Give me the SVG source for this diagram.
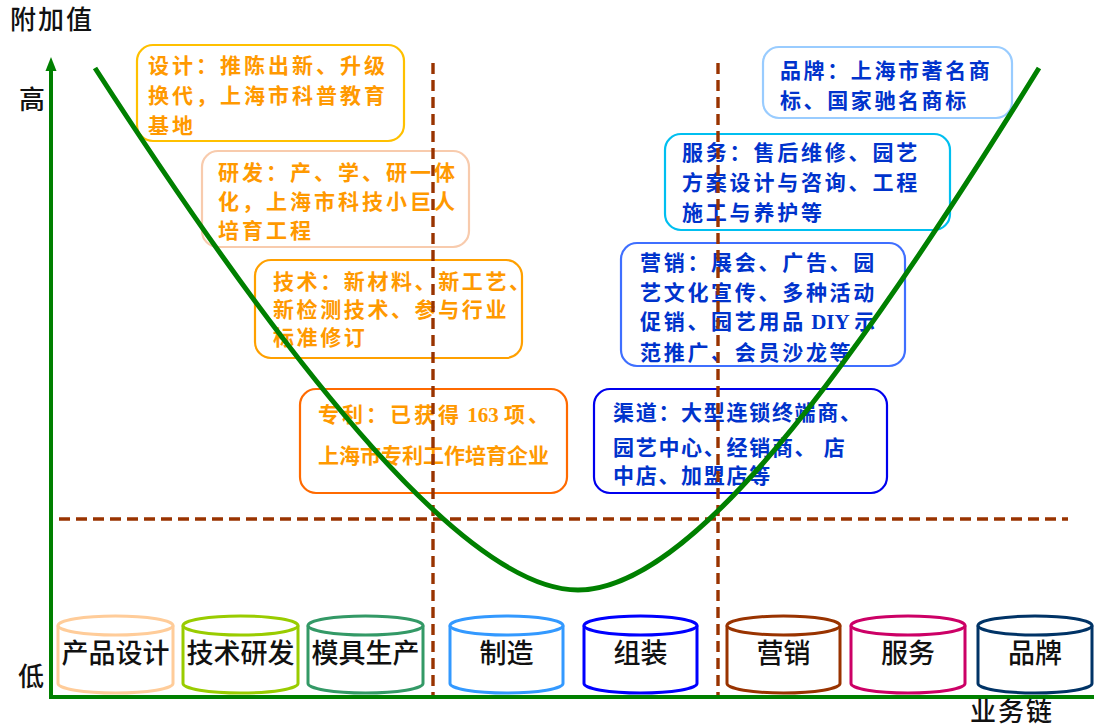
<svg xmlns="http://www.w3.org/2000/svg" width="1094" height="726" viewBox="0 0 1094 726">
<style>
.box{fill:#fff;stroke-width:2.2}
.ot{font-family:"Noto Sans CJK SC","Noto Sans",sans-serif;font-size:21px;font-weight:bold;fill:#FF9900}
.bt{font-family:"Noto Sans CJK SC","Noto Sans",sans-serif;font-size:21px;font-weight:bold;fill:#0033CC}
.cyl{fill:#fff;stroke-width:3}
.cl{font-family:"Noto Sans CJK SC","Noto Sans",sans-serif;font-size:27px;font-weight:500;fill:#111;text-anchor:middle}
.ax{font-family:"Noto Sans CJK SC","Noto Sans",sans-serif;font-size:26px;font-weight:500;fill:#111}
.dash{stroke:#993300;stroke-width:3.4;stroke-dasharray:11 6;fill:none}
.lat{font-family:"Liberation Serif",serif;font-weight:bold;letter-spacing:0}
</style>
<rect width="1094" height="726" fill="#fff"/>

<g id="box-design">
<rect class="box" x="137" y="45" width="267" height="96" rx="16" stroke="#FFC000"/>
<text class="ot" letter-spacing="3"><tspan x="148" y="73">设计：推陈出新、升级</tspan><tspan x="148" y="103">换代，上海市科普教育</tspan><tspan x="148" y="133">基地</tspan></text>
</g>
<g id="box-rd">
<rect class="box" x="202" y="151" width="267" height="96" rx="16" stroke="#F8CBAD"/>
<text class="ot" letter-spacing="3"><tspan x="218" y="180">研发：产、学、研一体</tspan><tspan x="218" y="209">化，上海市科技小巨人</tspan><tspan x="218" y="238">培育工程</tspan></text>
</g>
<g id="box-tech">
<rect class="box" x="255" y="260" width="267" height="98" rx="16" stroke="#FFA000"/>
<text class="ot" font-size="20" letter-spacing="2.6"><tspan x="273" y="289">技术：新材料、新工艺、</tspan><tspan x="273" y="317">新检测技术、参与行业</tspan><tspan x="273" y="345">标准修订</tspan></text>
</g>
<g id="box-patent">
<rect class="box" x="300" y="389" width="267" height="104" rx="16" stroke="#FF6A00"/>
<text class="ot" x="318" y="422" letter-spacing="3">专利：已获得<tspan class="lat"> 163 </tspan>项、</text>
<text class="ot" x="318" y="463" font-size="19">上海市专利工作培育企业</text>
</g>
<g id="box-brand">
<rect class="box" x="763" y="47" width="249" height="71" rx="16" stroke="#99CCFF"/>
<text class="bt" letter-spacing="2.6"><tspan x="780" y="78">品牌：上海市著名商</tspan><tspan x="780" y="108">标、国家驰名商标</tspan></text>
</g>
<g id="box-service">
<rect class="box" x="665" y="134" width="285" height="96" rx="16" stroke="#00BFF0"/>
<text class="bt" letter-spacing="2.8"><tspan x="682" y="160">服务：售后维修、园艺</tspan><tspan x="682" y="190">方案设计与咨询、工程</tspan><tspan x="682" y="220">施工与养护等</tspan></text>
</g>
<g id="box-marketing">
<rect class="box" x="621" y="243" width="284" height="123" rx="16" stroke="#3F6FFF"/>
<text class="bt" letter-spacing="2.7"><tspan x="640" y="270">营销：展会、广告、园</tspan><tspan x="640" y="300">艺文化宣传、多种活动</tspan><tspan x="640" y="329">促销、园艺用品<tspan class="lat"> DIY </tspan>示</tspan><tspan x="640" y="360">范推广、会员沙龙等</tspan></text>
</g>
<g id="box-channel">
<rect class="box" x="594" y="389" width="293" height="104" rx="16" stroke="#0000EE"/>
<text class="bt" letter-spacing="1.7"><tspan x="613" y="420">渠道：大型连锁终端商、</tspan><tspan x="613" y="455">园艺中心、经销商、 店</tspan><tspan x="613" y="483">中店、加盟店等</tspan></text>
</g>

<g id="connectors">
<line class="dash" x1="433" y1="63" x2="433" y2="697"/>
<line class="dash" x1="718" y1="63" x2="718" y2="697"/>
<line class="dash" x1="59" y1="519" x2="1068" y2="519"/>
<path d="M95,68 C300,385 470,590 578,590 C688,590 843,385 1039,68" fill="none" stroke="#008000" stroke-width="5"/>
<line x1="51" y1="697" x2="51" y2="68" stroke="#008000" stroke-width="4"/>
<polygon points="51,57 45.5,71 56.5,71" fill="#008000"/>
<line x1="49" y1="697" x2="1094" y2="697" stroke="#008000" stroke-width="4"/>
</g>

<g id="cyl-1"><path class="cyl" stroke="#FFCC99" d="M58,625.5 V683.5 A57.5,9.5 0 0 0 173,683.5 V625.5"/><ellipse class="cyl" stroke="#FFCC99" cx="115.5" cy="625.5" rx="57.5" ry="9.5"/><text class="cl" x="115.5" y="663">产品设计</text></g>
<g id="cyl-2"><path class="cyl" stroke="#99CC00" d="M183,625.5 V683.5 A57.5,9.5 0 0 0 298,683.5 V625.5"/><ellipse class="cyl" stroke="#99CC00" cx="240.5" cy="625.5" rx="57.5" ry="9.5"/><text class="cl" x="240.5" y="663">技术研发</text></g>
<g id="cyl-3"><path class="cyl" stroke="#339966" d="M308,625.5 V683.5 A57.5,9.5 0 0 0 423,683.5 V625.5"/><ellipse class="cyl" stroke="#339966" cx="365.5" cy="625.5" rx="57.5" ry="9.5"/><text class="cl" x="365.5" y="663">模具生产</text></g>
<g id="cyl-4"><path class="cyl" stroke="#3399FF" d="M450,625.5 V683.5 A56.5,9.5 0 0 0 563,683.5 V625.5"/><ellipse class="cyl" stroke="#3399FF" cx="506.5" cy="625.5" rx="56.5" ry="9.5"/><text class="cl" x="506.5" y="663">制造</text></g>
<g id="cyl-5"><path class="cyl" stroke="#0000FF" d="M584,625.5 V683.5 A56.5,9.5 0 0 0 697,683.5 V625.5"/><ellipse class="cyl" stroke="#0000FF" cx="640.5" cy="625.5" rx="56.5" ry="9.5"/><text class="cl" x="640.5" y="663">组装</text></g>
<g id="cyl-6"><path class="cyl" stroke="#993300" d="M727,625.5 V683.5 A56.5,9.5 0 0 0 840,683.5 V625.5"/><ellipse class="cyl" stroke="#993300" cx="783.5" cy="625.5" rx="56.5" ry="9.5"/><text class="cl" x="783.5" y="663">营销</text></g>
<g id="cyl-7"><path class="cyl" stroke="#CC0066" d="M851,625.5 V683.5 A57,9.5 0 0 0 965,683.5 V625.5"/><ellipse class="cyl" stroke="#CC0066" cx="908" cy="625.5" rx="57" ry="9.5"/><text class="cl" x="908" y="663">服务</text></g>
<g id="cyl-8"><path class="cyl" stroke="#003366" d="M978,625.5 V683.5 A57,9.5 0 0 0 1092,683.5 V625.5"/><ellipse class="cyl" stroke="#003366" cx="1035" cy="625.5" rx="57" ry="9.5"/><text class="cl" x="1035" y="663">品牌</text></g>

<g id="axis-labels">
<text class="ax" x="10" y="29" letter-spacing="2">附加值</text>
<text class="ax" x="19" y="109">高</text>
<text class="ax" x="18" y="686">低</text>
<text class="ax" x="970" y="721" letter-spacing="2">业务链</text>
</g>
</svg>
